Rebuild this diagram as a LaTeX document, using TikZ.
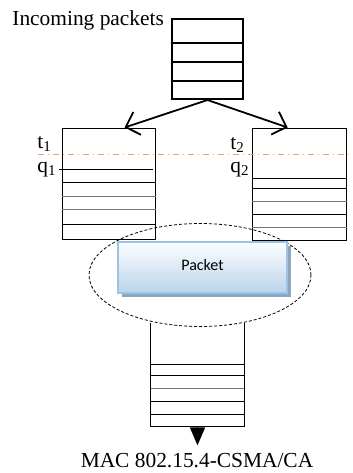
\documentclass[tikz,border=0pt]{standalone}
\usepackage{fontspec}
\setmainfont{Liberation Serif}
\newfontfamily\boxfont{Carlito}
\usetikzlibrary{calc,shapes,arrows.meta,shadows}

\definecolor{pktedge}{RGB}{157,195,230}
\definecolor{pkttop}{RGB}{252,253,255}
\definecolor{pktbot}{RGB}{188,212,236}
\definecolor{pktshade}{RGB}{140,165,192}
\definecolor{tline}{RGB}{240,160,110}

\tikzset{
 queue/.style={draw, inner sep=0pt, line width=0.5pt},
 slot/.style={line width=0.5pt},
 tag/.style={anchor=base west, inner sep=0pt},
 barb/.style={-{Straight Barb[length=6pt,width=12pt]}, line width=0.9pt},
}

\begin{document}
\begin{tikzpicture}[x=0.5pt,y=-0.5pt,font=\fontsize{10.7}{12.8}\selectfont]
 \useasboundingbox (0,0) rectangle (353,473);

 % incoming queue
 \node[anchor=base west, inner sep=0pt] (inlbl) at (12,25) {Incoming packets};
 \node[queue, line width=1pt, minimum width=35.5pt, minimum height=40pt] (inq) at (207.5,59) {};
 \foreach \y in {43,62,81}
  \draw[line width=1pt] (inq.west |- 0,\y) -- (inq.east |- 0,\y);

 % the two queues
 \node[queue, minimum width=46.5pt, minimum height=55.5pt] (lq) at (109.5,183.5) {};
 \node[queue, minimum width=47pt, minimum height=56pt] (rq) at (300,184) {};
 \draw[slot] ([xshift=-1.5pt]lq.west |- 0,169) -- ([xshift=-1.5pt]lq.east |- 0,169);
 \foreach \y/\c in {182/black,196/black!55,209/black!55,224/black}
  \draw[slot, draw=\c] (lq.west |- 0,\y) -- (lq.east |- 0,\y);
 \foreach \y/\c in {178/black,188/black,201/black!55,214/black,227/black!55}
  \draw[slot, draw=\c] (rq.west |- 0,\y) -- (rq.east |- 0,\y);

 \node[tag] (t1) at (37,148) {t\textsubscript{1}};
 \node[tag] (q1) at (37,172) {q\textsubscript{1}};
 \node[tag] (t2) at (230,149) {t\textsubscript{2}};
 \node[tag] (q2) at (230,172) {q\textsubscript{2}};

 \draw[tline, line width=0.5pt, dash dot] (38,154) -- (353,154);

 \draw[barb] (inq.south) -- ($(lq.north west)!0.66!(lq.north east)$);
 \draw[barb] (inq.south) -- ($(rq.north west)!0.37!(rq.north east)$);

 % packet being served
 \node[ellipse, draw, line width=0.4pt, dash pattern=on 1.5pt off 1pt,
       minimum width=111pt, minimum height=51.5pt, inner sep=0pt] (grp) at (200,275) {};
 \node[draw=pktedge, line width=1.2pt, top color=pkttop, bottom color=pktbot,
       minimum width=84.5pt, minimum height=25.5pt,
       drop shadow={shadow xshift=2pt, shadow yshift=-2pt, fill=pktshade, opacity=1},
       font=\boxfont\fontsize{8}{9}\selectfont] (pkt) at (202.5,267.5) {\raisebox{2.5pt}{Packet}};

 % output queue
 \node[inner sep=0pt, minimum width=46.5pt, minimum height=51.5pt] (outq) at (197.5,374.5) {};
 \draw[slot] (outq.north west) |- (outq.south east) -- (outq.north east);
 \foreach \y/\c in {364/black,375/black,388/black!55,401/black,414/black}
  \draw[slot, draw=\c] (outq.west |- 0,\y) -- (outq.east |- 0,\y);

 \node[anchor=base, inner sep=0pt] (mac) at (197,467) {MAC 802.15.4-CSMA/CA};
 \draw[-{Triangle[length=9pt,width=7.5pt]}, line width=0.8pt, shorten >=3.5pt]
  (outq.south) -- (outq.south |- mac.north);
\end{tikzpicture}
\end{document}
